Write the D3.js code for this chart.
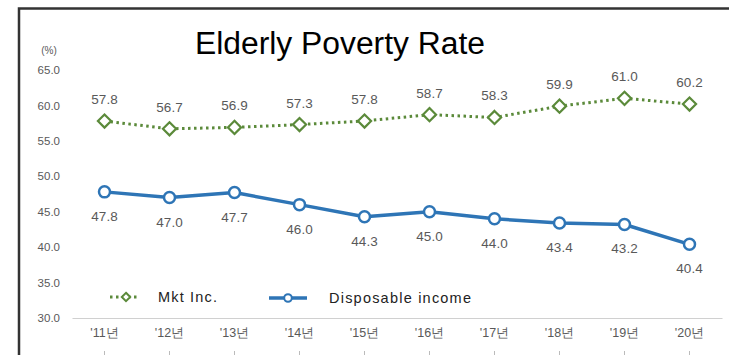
<!DOCTYPE html>
<html><head><meta charset="utf-8">
<script src="https://cdn.jsdelivr.net/npm/d3@7"></script>
<style>body{margin:0;background:#fff}svg{display:block}</style>
</head><body>
<svg id="c" width="729" height="355"></svg>
<script>
const categories = ["'11년","'12년","'13년","'14년","'15년","'16년","'17년","'18년","'19년","'20년"];
const mktInc = [57.8,56.7,56.9,57.3,57.8,58.7,58.3,59.9,61.0,60.2];
const disposable = [47.8,47.0,47.7,46.0,44.3,45.0,44.0,43.4,43.2,40.4];
const yTicks = [30,35,40,45,50,55,60,65];
const seriesNames = ["Mkt Inc.","Disposable income"];

const svg = d3.select("#c");
const font = "'Liberation Sans', Arial, sans-serif";
const gray = "#595959";
const green = "#5b8a3a";
const blue = "#2e75b6";

// frame
svg.append("path").attr("d","M19,355 V8.5 H729").attr("fill","none").attr("stroke","#333").attr("stroke-width",2.5);

const x = d3.scaleBand().domain(categories).range([72,722]);
const y = d3.scaleLinear().domain([30,65]).range([318,70]);

// title
svg.append("text").attr("x",340).attr("y",54).attr("text-anchor","middle")
  .attr("font-family",font).attr("font-size",31).attr("fill","#000")
  .attr("textLength",290).attr("lengthAdjust","spacingAndGlyphs").text("Elderly Poverty Rate");

// y axis labels
const yAxis = d3.axisLeft(y).tickValues(yTicks).tickFormat(d3.format(".1f")).tickSize(0).tickPadding(0);
const yg = svg.append("g").attr("transform","translate(60,0)").call(yAxis);
yg.select(".domain").remove();
yg.selectAll("text").attr("font-family",font).attr("font-size",11.5).attr("fill",gray);
svg.append("text").attr("x",49).attr("y",54).attr("text-anchor","middle").attr("font-family",font)
  .attr("font-size",10).attr("fill",gray).text("(%)");

// baseline & x axis
const xAxis = d3.axisBottom(x).tickSize(0).tickPadding(0);
const xg = svg.append("g").attr("transform","translate(0,318)").call(xAxis);
xg.select(".domain").attr("stroke","#d0d0d0").attr("stroke-width",1.2);
xg.selectAll("text").attr("font-family",font).attr("font-size",12.5).attr("fill",gray).attr("dy","1.55em");
xg.selectAll(".tick").append("line").attr("y1",33).attr("y2",37).attr("stroke","#bbb");

const cx = d => x(d) + x.bandwidth()/2;
const line = d3.line().x((d,i)=>cx(categories[i])).y(d=>y(d));

// mkt inc series
svg.append("path").datum(mktInc).attr("d",line).attr("fill","none").attr("stroke",green)
  .attr("stroke-width",3).attr("stroke-dasharray","2.5,3.5").attr("stroke-linecap","butt");
const diamond = d3.symbol().type(d3.symbolDiamond2).size(110);
svg.selectAll(".dm").data(mktInc).join("path").attr("class","dm")
  .attr("transform",(d,i)=>`translate(${cx(categories[i])},${y(d)})`)
  .attr("d",diamond).attr("fill","#fff").attr("stroke",green).attr("stroke-width",2.2);
svg.selectAll(".ml").data(mktInc).join("text").attr("class","ml")
  .attr("x",(d,i)=>cx(categories[i])).attr("y",d=>y(d)-17).attr("text-anchor","middle")
  .attr("font-family",font).attr("font-size",13.5).attr("fill",gray).text(d=>d.toFixed(1));

// disposable series
svg.append("path").datum(disposable).attr("d",line).attr("fill","none").attr("stroke",blue)
  .attr("stroke-width",3.5).attr("stroke-linejoin","round");
svg.selectAll(".dc").data(disposable).join("circle").attr("class","dc")
  .attr("cx",(d,i)=>cx(categories[i])).attr("cy",d=>y(d)).attr("r",5.5)
  .attr("fill","#fff").attr("stroke",blue).attr("stroke-width",2.5);
svg.selectAll(".dl").data(disposable).join("text").attr("class","dl")
  .attr("x",(d,i)=>cx(categories[i])).attr("y",d=>y(d)+29).attr("text-anchor","middle")
  .attr("font-family",font).attr("font-size",13.5).attr("fill",gray).text(d=>d.toFixed(1));

// legend
const lg = svg.append("g");
lg.append("line").attr("x1",110).attr("x2",137).attr("y1",297).attr("y2",297).attr("stroke",green)
  .attr("stroke-width",3).attr("stroke-dasharray","2.5,3.5");
lg.append("path").attr("transform","translate(126,297)").attr("d",d3.symbol().type(d3.symbolDiamond2).size(45))
  .attr("fill","#fff").attr("stroke",green).attr("stroke-width",2);
lg.append("text").attr("x",158).attr("y",302).attr("font-family",font).attr("font-size",14.5).attr("fill","#222")
  .attr("textLength",59).attr("lengthAdjust","spacing").text(seriesNames[0]);
lg.append("line").attr("x1",269).attr("x2",307).attr("y1",298).attr("y2",298).attr("stroke",blue).attr("stroke-width",3.5);
lg.append("circle").attr("cx",288).attr("cy",298).attr("r",3.8).attr("fill","#fff").attr("stroke",blue).attr("stroke-width",2);
lg.append("text").attr("x",329).attr("y",303).attr("font-family",font).attr("font-size",14.5).attr("fill","#222")
  .attr("textLength",142).attr("lengthAdjust","spacing").text(seriesNames[1]);
</script>
</body></html>
